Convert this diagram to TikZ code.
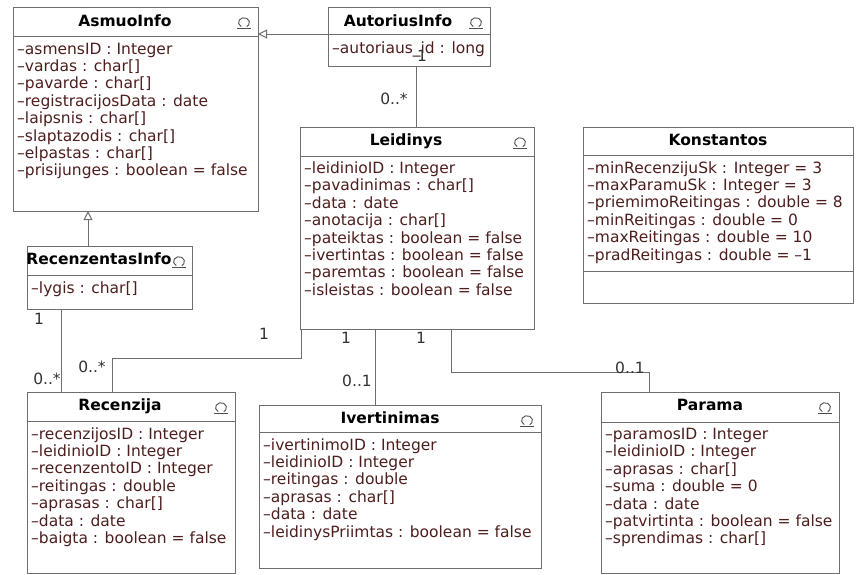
\documentclass[tikz,border=0pt]{standalone}
\usepackage{fontspec}
\setmainfont{DejaVu Sans}
\usetikzlibrary{arrows.meta}

\definecolor{attrtext}{RGB}{78,30,30}
\definecolor{edge}{RGB}{110,110,110}
\definecolor{numtext}{RGB}{50,50,50}

\tikzset{
  umlbox/.style={draw=edge, line width=1pt, fill=white, inner sep=0pt, outer sep=0pt, rectangle},
  sepline/.style={draw=edge, line width=1pt},
  classtitle/.style={font=\fontsize{15.5}{17}\selectfont\bfseries, text=black, inner sep=0pt, anchor=base},
  attr/.style={font=\fontsize{15.5}{17}\selectfont, text=attrtext, inner sep=0pt, anchor=base west},
  mult/.style={font=\fontsize{15.5}{17}\selectfont, text=numtext, inner sep=0pt, anchor=base},
  assoc/.style={draw=edge, line width=1pt},
  inherit/.style={draw=edge, line width=1pt, -{Triangle[open, length=9pt, width=9pt, fill=white]}},
  iconline/.style={draw=edge!70!black, line width=0.9pt},
}

% class box: name, left, top, right, bottom, separator y
\newcommand\umlclass[6]{%
  \node[umlbox, minimum width={(#4)-(#2)}, minimum height={(#5)-(#3)}, anchor=north west] (#1) at (#2,#3) {};
  \draw[sepline] (#2,#6) -- (#4,#6);
}
% class icon: centre x, top of the box
\newcommand\umlicon[2]{%
  \draw[iconline] ({#1+5.5*cos(120)},{#2+15.5+4.8*sin(120)})
     arc[start angle=120, end angle=420, x radius=5.5, y radius=4.8];
  \draw[iconline] ({#1-7},{#2+21}) -- ({#1+7},{#2+21});
}
% attribute lines: name prefix, x, first baseline, list
\newcommand\umlattrs[4]{%
  \foreach \t [count=\i from 0] in {#4}
    \node[attr] (#1-\i) at (#2,{#3+17.4*\i}) {\t};
}

\begin{document}
\begin{tikzpicture}[x=1pt, y=-1pt]
\fill[white] (0,0) rectangle (857,574);
\useasboundingbox (0,0) rectangle (857,574);

% ---- AsmuoInfo
\umlclass{asmuo}{13}{7}{258}{211}{36}
\node[classtitle] (asmuo-t) at (125,26) {AsmuoInfo};
\umlicon{244}{7}
\umlattrs{asmuo}{17}{54}{–asmensID : Integer, –vardas : char[], –pavarde : char[],
  –registracijosData : date, –laipsnis : char[], –slaptazodis : char[],
  –elpastas : char[], –prisijunges : boolean = false}

% ---- AutoriusInfo
\umlclass{autor}{328}{7}{490}{66}{34}
\node[classtitle] (autor-t) at (398,26) {AutoriusInfo};
\umlicon{476}{7}
\umlattrs{autor}{332}{53}{–autoriaus\_id : long}

% ---- Leidinys
\umlclass{leid}{300}{127}{534}{329}{156}
\node[classtitle] (leid-t) at (406,145) {Leidinys};
\umlicon{520}{127}
\umlattrs{leid}{304}{173.5}{–leidinioID : Integer, –pavadinimas : char[], –data : date,
  –anotacija : char[], –pateiktas : boolean = false, –ivertintas : boolean = false,
  –paremtas : boolean = false, –isleistas : boolean = false}

% ---- Konstantos
\umlclass{konst}{583}{127}{853}{303}{155}
\draw[sepline] (583,271) -- (853,271);
\node[classtitle] (konst-t) at (718,145) {Konstantos};
\umlattrs{konst}{587}{173}{–minRecenzijuSk : Integer = 3, –maxParamuSk : Integer = 3,
  –priemimoReitingas : double = 8, –minReitingas : double = 0,
  –maxReitingas : double = 10, –pradReitingas : double = –1}

% ---- RecenzentasInfo
\umlclass{recinfo}{27}{246}{192}{309}{275}
\node[classtitle] (recinfo-t) at (99,264) {RecenzentasInfo};
\umlicon{179}{246}
\umlattrs{recinfo}{31}{293}{–lygis : char[]}

% ---- Recenzija
\umlclass{recenz}{27}{392}{235}{573}{421}
\node[classtitle] (recenz-t) at (120,410) {Recenzija};
\umlicon{221}{392}
\umlattrs{recenz}{31}{439}{–recenzijosID : Integer, –leidinioID : Integer,
  –recenzentoID : Integer, –reitingas : double, –aprasas : char[],
  –data : date, –baigta : boolean = false}

% ---- Ivertinimas
\umlclass{ivert}{259}{405}{541}{568}{432}
\node[classtitle] (ivert-t) at (390,423) {Ivertinimas};
\umlicon{527}{405}
\umlattrs{ivert}{263}{450}{–ivertinimoID : Integer, –leidinioID : Integer,
  –reitingas : double, –aprasas : char[], –data : date,
  –leidinysPriimtas : boolean = false}

% ---- Parama
\umlclass{parama}{601}{392}{839}{573}{422}
\node[classtitle] (parama-t) at (710,410) {Parama};
\umlicon{825}{392}
\umlattrs{parama}{605}{439.5}{–paramosID : Integer, –leidinioID : Integer,
  –aprasas : char[], –suma : double = 0, –data : date,
  –patvirtinta : boolean = false, –sprendimas : char[]}

% ---- generalisations
\draw[inherit] ([yshift=2.5pt]autor.west) -- ([yshift=2.5pt]autor.west -| asmuo.east);
\draw[inherit] ([xshift=-21.5pt]recinfo.north) -- ([xshift=-21.5pt]recinfo.north |- asmuo.south);

% ---- associations
\draw[assoc] ([xshift=7pt]autor.south) -- ([xshift=7pt]autor.south |- leid.north);
\node[mult] (m-autor) at (422,61) {1};
\node[mult] (m-autor-leid) at (394,104) {0..*};

\draw[assoc] ([xshift=-48.5pt]recinfo.south) -- ([xshift=-48.5pt]recinfo.south |- recenz.north);
\node[mult] (m-recinfo) at (39,324) {1};
\node[mult] (m-recinfo-recenz) at (47,384) {0..*};

\draw[assoc] ([xshift=1pt]leid.south west) -- ++(0,29) -| ([xshift=-19pt]recenz.north);
\node[mult] (m-leid-a) at (264,339) {1};
\node[mult] (m-leid-recenz) at (92,372) {0..*};

\draw[assoc] ([xshift=-42pt]leid.south) -- ([xshift=-42pt]leid.south |- ivert.north);
\node[mult] (m-leid-b) at (346,343) {1};
\node[mult] (m-leid-ivert) at (357,386) {0..1};

\draw[assoc] ([xshift=34pt]leid.south) -- ++(0,43) -| ([xshift=-71pt]parama.north);
\node[mult] (m-leid-c) at (421,343) {1};
\node[mult] (m-leid-parama) at (630,373) {0..1};
\end{tikzpicture}
\end{document}
